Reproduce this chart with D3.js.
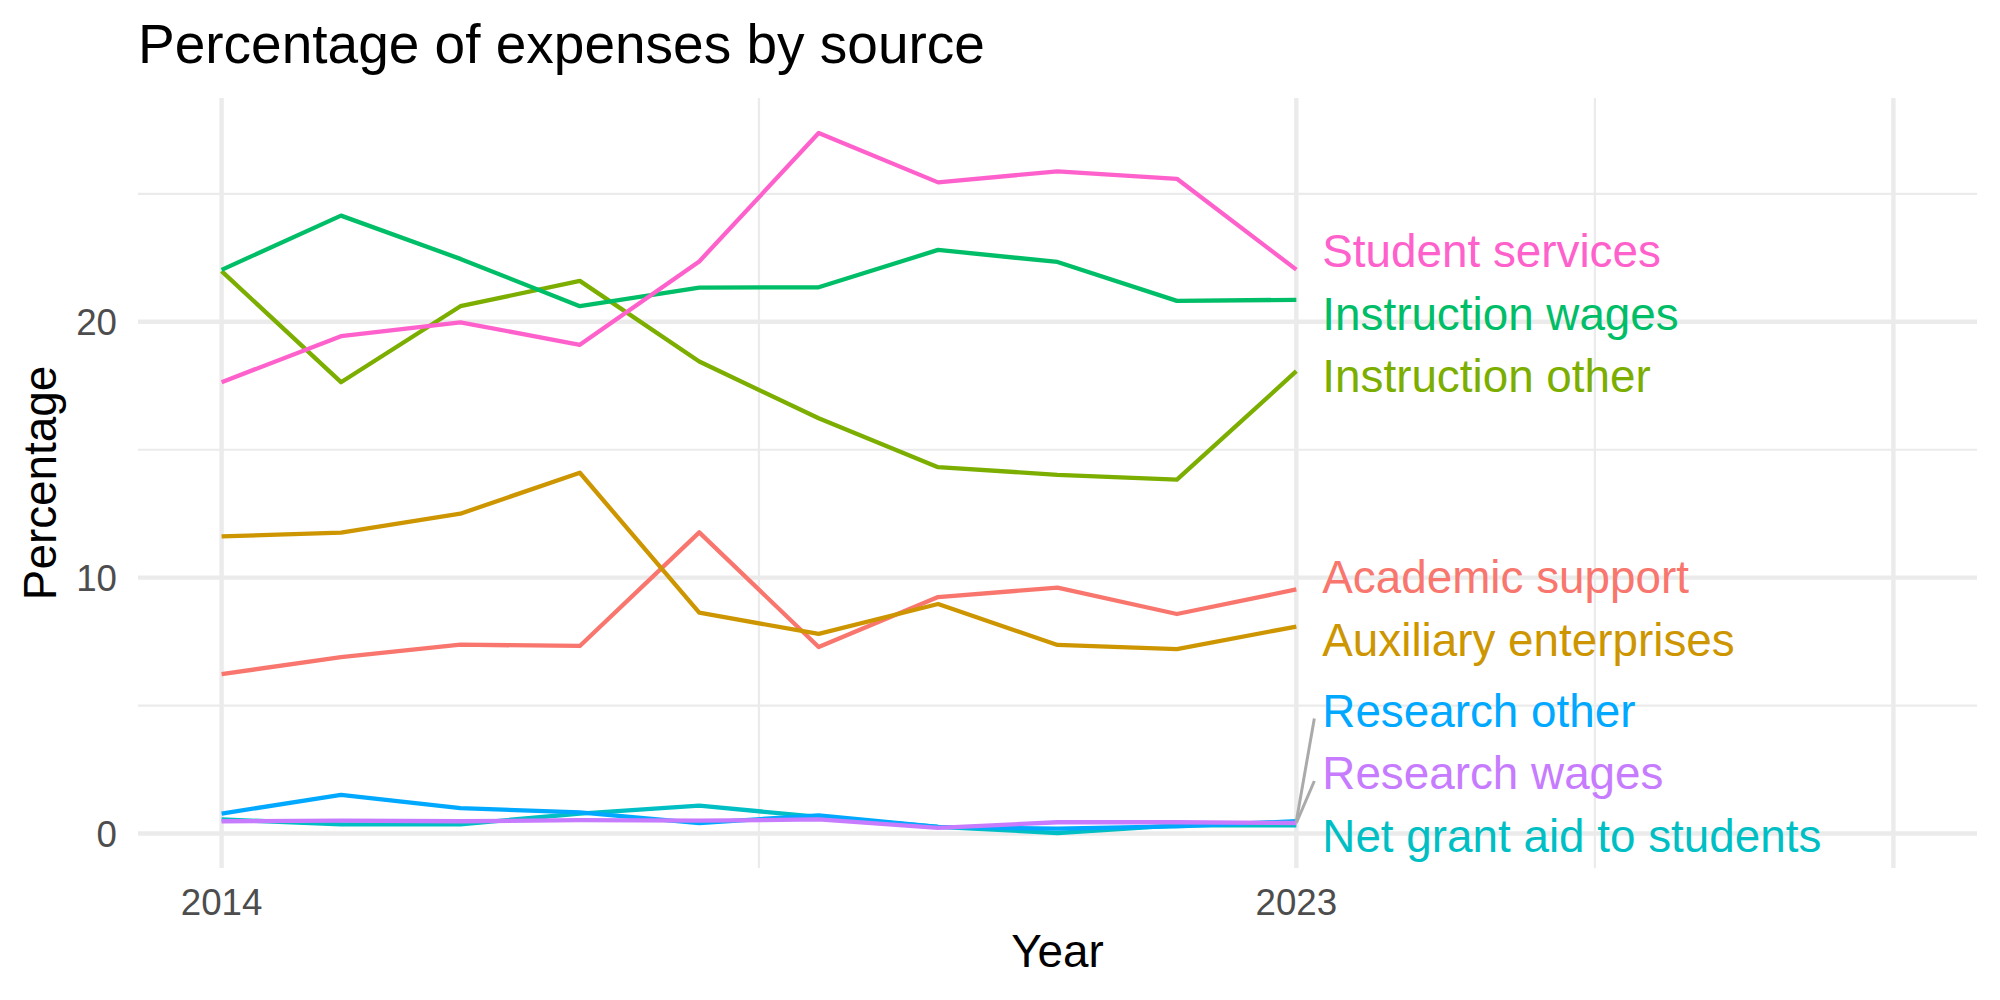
<!DOCTYPE html>
<html>
<head>
<meta charset="utf-8">
<script src="https://cdn.jsdelivr.net/npm/d3@7"></script>
<style>
  body { margin: 0; background: #fff; }
  text { font-family: "Liberation Sans", Arial, Helvetica, sans-serif; }
</style>
</head>
<body>
<svg id="chart"></svg>
<script>
// data
const years = [2014, 2015, 2016, 2017, 2018, 2019, 2020, 2021, 2022, 2023];

const academicSupport = [6.23, 6.89, 7.38, 7.33, 11.77, 7.29, 9.24, 9.61, 8.58, 9.54];
const auxiliaryEnterprises = [11.61, 11.76, 12.5, 14.1, 8.63, 7.8, 8.97, 7.37, 7.21, 8.09];
const instructionOther = [21.98, 17.64, 20.61, 21.6, 18.45, 16.23, 14.32, 14.02, 13.83, 18.07];
const instructionWages = [22.03, 24.15, 22.46, 20.61, 21.34, 21.35, 22.81, 22.34, 20.82, 20.86];
const netGrantAid = [0.55, 0.36, 0.36, 0.78, 1.09, 0.65, 0.26, 0.02, 0.32, 0.32];
const researchOther = [0.78, 1.51, 0.99, 0.83, 0.41, 0.71, 0.26, 0.19, 0.28, 0.48];
const researchWages = [0.48, 0.5, 0.48, 0.52, 0.5, 0.55, 0.22, 0.44, 0.44, 0.41];
const studentServices = [17.64, 19.44, 19.98, 19.1, 22.36, 27.38, 25.45, 25.88, 25.59, 22.04];

const seriesNames = [
  "Academic support",
  "Auxiliary enterprises",
  "Instruction other",
  "Instruction wages",
  "Net grant aid to students",
  "Research other",
  "Research wages",
  "Student services",
];
const seriesValues = [
  academicSupport,
  auxiliaryEnterprises,
  instructionOther,
  instructionWages,
  netGrantAid,
  researchOther,
  researchWages,
  studentServices,
];
const seriesColors = ["#F8766D", "#CD9600", "#7CAE00", "#00BE67", "#00BFC4", "#00A9FF", "#C77CFF", "#FF61CC"];

const xLimits = [2014, 2028];
const xMajor = [2014, 2023, 2028];
const xMinor = [2018.5, 2025.5];
const xTickLabels = [2014, 2023];
const yMajor = [0, 10, 20];
const yMinor = [5, 15, 25];

function init() {
  const width = 2000,
    height = 1000;
  const margin = { top: 98, right: 23, bottom: 132, left: 138 };

  const svg = d3.select("#chart").attr("width", width).attr("height", height);

  const series = seriesNames.map((name, i) => ({
    name: name,
    color: seriesColors[i],
    values: years.map((y, j) => ({ year: y, value: seriesValues[i][j] })),
  }));

  // ggplot style 5% expansion
  const xPad = (xLimits[1] - xLimits[0]) * 0.05;
  const x = d3
    .scaleLinear()
    .domain([xLimits[0] - xPad, xLimits[1] + xPad])
    .range([margin.left, width - margin.right]);

  const allValues = seriesValues.flat();
  const yExt = d3.extent(allValues);
  const yPad = (yExt[1] - yExt[0]) * 0.05;
  const y = d3
    .scaleLinear()
    .domain([yExt[0] - yPad, yExt[1] + yPad])
    .range([height - margin.bottom, margin.top]);

  const grid = svg.append("g").attr("stroke", "#EBEBEB").attr("fill", "none");

  grid
    .selectAll("line.yminor")
    .data(yMinor)
    .join("line")
    .attr("class", "yminor")
    .attr("x1", x.range()[0])
    .attr("x2", x.range()[1])
    .attr("y1", (d) => y(d))
    .attr("y2", (d) => y(d))
    .attr("stroke-width", 2.2);

  grid
    .selectAll("line.xminor")
    .data(xMinor)
    .join("line")
    .attr("class", "xminor")
    .attr("y1", y.range()[0])
    .attr("y2", y.range()[1])
    .attr("x1", (d) => x(d))
    .attr("x2", (d) => x(d))
    .attr("stroke-width", 2.2);

  grid
    .selectAll("line.ymajor")
    .data(yMajor)
    .join("line")
    .attr("class", "ymajor")
    .attr("x1", x.range()[0])
    .attr("x2", x.range()[1])
    .attr("y1", (d) => y(d))
    .attr("y2", (d) => y(d))
    .attr("stroke-width", 4.4);

  grid
    .selectAll("line.xmajor")
    .data(xMajor)
    .join("line")
    .attr("class", "xmajor")
    .attr("y1", y.range()[0])
    .attr("y2", y.range()[1])
    .attr("x1", (d) => x(d))
    .attr("x2", (d) => x(d))
    .attr("stroke-width", 4.4);

  // tick labels
  svg
    .append("g")
    .selectAll("text")
    .data(yMajor)
    .join("text")
    .attr("x", margin.left - 21)
    .attr("y", (d) => y(d))
    .attr("dy", "0.358em")
    .attr("text-anchor", "end")
    .attr("fill", "#4D4D4D")
    .style("font-size", "36.7px")
    .text((d) => d);

  svg
    .append("g")
    .selectAll("text")
    .data(xTickLabels)
    .join("text")
    .attr("x", (d) => x(d))
    .attr("y", y.range()[0] + 47)
    .attr("text-anchor", "middle")
    .attr("fill", "#4D4D4D")
    .style("font-size", "36.7px")
    .text((d) => d);

  // lines
  const line = d3
    .line()
    .x((d) => x(d.year))
    .y((d) => y(d.value));

  svg
    .append("g")
    .selectAll("path")
    .data(series)
    .join("path")
    .attr("d", (d) => line(d.values))
    .attr("fill", "none")
    .attr("stroke", (d) => d.color)
    .attr("stroke-width", 4.3)
    .attr("stroke-linejoin", "round");

  // repelled end labels: stack overlapping labels around their mean
  const gap = 62.5;
  const lo = margin.top + 32,
    hi = height - margin.bottom - 32.5;
  const ends = series
    .map((s) => ({ s: s, py: y(s.values[s.values.length - 1].value) }))
    .sort((a, b) => a.py - b.py);

  let clusters = ends.map((e) => ({ items: [e], center: e.py }));
  const top = (c) => c.center - ((c.items.length - 1) / 2) * gap;
  const bottom = (c) => c.center + ((c.items.length - 1) / 2) * gap;
  const clamp = (c) => {
    if (top(c) < lo) c.center += lo - top(c);
    if (bottom(c) > hi) c.center -= bottom(c) - hi;
  };
  let merged = true;
  while (merged) {
    merged = false;
    clusters.forEach(clamp);
    for (let i = 0; i < clusters.length - 1; i++) {
      const a = clusters[i],
        b = clusters[i + 1];
      if (bottom(a) + gap > top(b)) {
        const items = a.items.concat(b.items);
        clusters.splice(i, 2, { items: items, center: d3.mean(items, (e) => e.py) });
        merged = true;
        break;
      }
    }
  }
  clusters.forEach(clamp);
  clusters.forEach((c) => {
    c.items.forEach((e, k) => {
      e.ly = top(c) + k * gap;
    });
  });

  const lastYear = years[years.length - 1];
  const labelX = x(lastYear) + 26;

  svg
    .append("g")
    .selectAll("line")
    .data(ends.filter((e) => Math.abs(e.ly - e.py) > 30))
    .join("line")
    .attr("x1", x(lastYear))
    .attr("y1", (d) => d.py)
    .attr("x2", labelX - 8)
    .attr("y2", (d) => d.ly + 8)
    .attr("stroke", "#AAAAAA")
    .attr("stroke-width", 3);

  svg
    .append("g")
    .selectAll("text")
    .data(ends)
    .join("text")
    .attr("x", labelX)
    .attr("y", (d) => d.ly)
    .attr("dy", "0.358em")
    .attr("fill", (d) => d.s.color)
    .style("font-size", "45.8px")
    .text((d) => d.s.name);

  // titles
  svg
    .append("text")
    .attr("x", margin.left)
    .attr("y", 62.7)
    .attr("fill", "#000")
    .style("font-size", "55px")
    .text("Percentage of expenses by source");

  svg
    .append("text")
    .attr("x", (x.range()[0] + x.range()[1]) / 2)
    .attr("y", 967)
    .attr("text-anchor", "middle")
    .attr("fill", "#000")
    .style("font-size", "45.8px")
    .text("Year");

  svg
    .append("text")
    .attr("transform", `translate(56, ${(y.range()[0] + y.range()[1]) / 2}) rotate(-90)`)
    .attr("text-anchor", "middle")
    .attr("fill", "#000")
    .style("font-size", "45.8px")
    .text("Percentage");
}

init();
</script>
</body>
</html>
